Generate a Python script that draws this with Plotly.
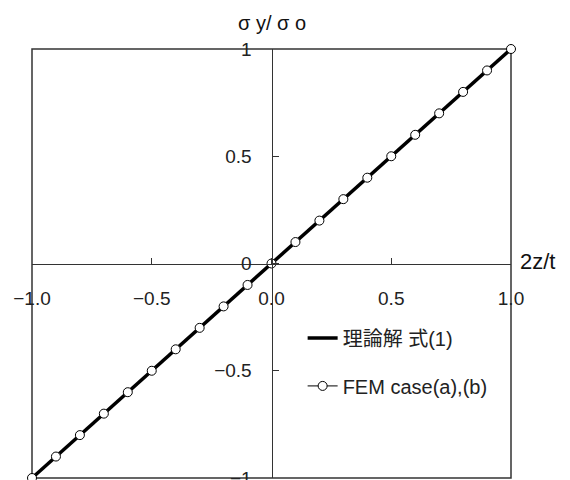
import plotly.graph_objects as go

# data
theory_x = [-1.0, 1.0]
theory_y = [-1.0, 1.0]
fem_x = [-1.0, -0.9, -0.8, -0.7, -0.6, -0.5, -0.4, -0.3, -0.2, -0.1, 0.0,
         0.1, 0.2, 0.3, 0.4, 0.5, 0.6, 0.7, 0.8, 0.9, 1.0]
fem_y = [-1.0, -0.9, -0.8, -0.7, -0.6, -0.5, -0.4, -0.3, -0.2, -0.1, 0.0,
         0.1, 0.2, 0.3, 0.4, 0.5, 0.6, 0.7, 0.8, 0.9, 1.0]
x_ticks = [-1.0, -0.5, 0.0, 0.5, 1.0]
x_tick_labels = ["−1.0", "−0.5", "0.0", "0.5", "1.0"]
y_ticks = [-1.0, -0.5, 0.0, 0.5, 1.0]
y_tick_labels = ["−1", "−0.5", "0", "0.5", "1"]

FONT = "Liberation Sans, Noto Sans CJK JP, sans-serif"

fig = go.Figure()
fig.add_trace(go.Scatter(
    x=theory_x, y=theory_y, mode="lines", name="理論解 式(1)",
    line=dict(color="black", width=3.5), legendgroup="a", cliponaxis=False))
fig.add_trace(go.Scatter(
    x=fem_x, y=fem_y, mode="lines+markers", name="FEM case(a),(b)",
    line=dict(color="black", width=1),
    marker=dict(symbol="circle", size=9, color="white",
                line=dict(color="black", width=1)),
    legendgroup="b", cliponaxis=False))

fig.update_layout(
    width=570, height=480,
    margin=dict(l=24, r=67, t=41, b=10),
    paper_bgcolor="white", plot_bgcolor="white",
    font=dict(family=FONT, size=19, color="#222"),
    showlegend=True,
    legend=dict(x=0.565, y=0.372, xanchor="left", yanchor="top",
                bgcolor="rgba(0,0,0,0)", font=dict(size=20, color="#222"),
                traceorder="grouped", tracegroupgap=19),
    xaxis=dict(range=[-1, 1], tickvals=x_ticks, ticktext=x_tick_labels,
               anchor="free", position=0.5, showline=True, linecolor="#333",
               linewidth=1, ticks="inside", ticklen=6, tickcolor="#333",
               showgrid=False, zeroline=False, ticklabelstandoff=18,
               ticklabeloverflow="allow", automargin=False),
    yaxis=dict(range=[-1, 1], tickvals=y_ticks, ticktext=y_tick_labels,
               anchor="free", position=0.5, showline=True, linecolor="#333",
               linewidth=1, ticks="inside", ticklen=6, tickcolor="#333",
               showgrid=False, zeroline=False, ticklabelstandoff=16,
               ticklabeloverflow="allow", automargin=False),
    shapes=[dict(type="rect", xref="paper", yref="paper", x0=0, x1=1, y0=0, y1=1,
                 line=dict(color="#333", width=1.5), layer="below")],
    annotations=[
        dict(text="σ y/ σ o", xref="paper", yref="paper", x=0.5, y=1,
             yshift=26, showarrow=False, xanchor="center", yanchor="middle",
             font=dict(size=20, color="#111")),
        dict(text="2z/t", xref="paper", yref="paper", x=1, y=0.5,
             xshift=7, yshift=2, showarrow=False, xanchor="left", yanchor="middle",
             font=dict(size=22, color="#111")),
    ],
)

fig.write_html("out.html")
